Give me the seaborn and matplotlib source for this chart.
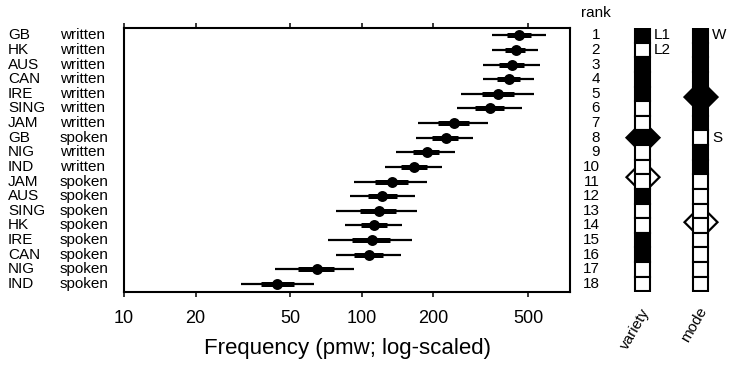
import numpy as np
import pandas as pd
import seaborn as sns
import matplotlib.pyplot as plt
from matplotlib.patches import Rectangle, Polygon
from matplotlib.ticker import NullLocator

# data (pmw), ordered by rank
variety = ['GB', 'HK', 'AUS', 'CAN', 'IRE', 'SING', 'JAM', 'GB', 'NIG',
           'IND', 'JAM', 'AUS', 'SING', 'HK', 'IRE', 'CAN', 'NIG', 'IND']
mode = ['written'] * 7 + ['spoken'] + ['written'] * 2 + ['spoken'] * 8
freq = [457, 444, 426, 414, 373, 345, 244, 226, 187, 165,
        134, 122, 118, 113, 110, 107, 65, 44]
lo95 = [353, 353, 324, 322, 262, 250, 173, 169, 139, 125,
        93, 89, 78, 85, 72, 78, 43, 31]
hi95 = [593, 549, 560, 528, 528, 470, 338, 294, 247, 217,
        188, 168, 170, 147, 162, 146, 93, 63]
lo50 = [407, 400, 377, 370, 320, 299, 209, 198, 164, 146,
        114, 106, 98, 99, 91, 93, 54, 37.5]
hi50 = [513, 487, 482, 461, 435, 395, 282, 254, 212, 187,
        156, 141, 139, 127, 131, 123, 76, 52]
l1_varieties = ['GB', 'AUS', 'CAN', 'IRE']
xticks = [10, 20, 50, 100, 200, 500]

df = pd.DataFrame({'variety': variety, 'mode': mode, 'freq': freq,
                   'lo95': lo95, 'hi95': hi95, 'lo50': lo50, 'hi50': hi50})
df['rank'] = np.arange(1, len(df) + 1)
df['L1'] = df['variety'].isin(l1_varieties)
df['W'] = df['mode'] == 'written'

sns.set_style('white')
plt.rcParams['font.family'] = ['Liberation Sans', 'DejaVu Sans']
plt.rcParams['text.color'] = 'black'
plt.rcParams['axes.labelcolor'] = 'black'
plt.rcParams['xtick.color'] = 'black'
plt.rcParams['xtick.labelcolor'] = 'black'

fig = plt.figure(figsize=(7.29, 3.67), dpi=100)
ylim = (18.55, 0.5)

# main dot plot
ax = fig.add_axes([124 / 729, 75 / 367, 446 / 729, 264 / 367])
ax.hlines(df['rank'], df['lo95'], df['hi95'], color='black', lw=1.6, zorder=2)
ax.hlines(df['rank'], df['lo50'], df['hi50'], color='black', lw=3.6, zorder=2)
sns.scatterplot(data=df, x='freq', y='rank', color='black', s=62,
                linewidth=0, ax=ax, zorder=3, legend=False)
ax.set_xscale('log')
ax.set_xlim(10, 750)
ax.set_ylim(*ylim)
ax.set_xticks(xticks)
ax.set_xticklabels([str(t) for t in xticks])
ax.xaxis.set_minor_locator(NullLocator())
ax.set_yticks([])
ax.tick_params(axis='x', which='major', top=True, bottom=True, direction='out',
               length=3.8, width=1.1, labelsize=13, pad=9, color='black',
               labelcolor='black')
ax.set_xlabel('Frequency (pmw; log-scaled)', fontsize=16, labelpad=8,
              color='black')
ax.set_ylabel('')
for s in ax.spines.values():
    s.set_linewidth(1.5)
    s.set_color('black')

# overlay in pixel-x / rank-y units for labels and rank columns
ov = fig.add_axes([0, 75 / 367, 1, 264 / 367])
ov.set_xlim(0, 729)
ov.set_ylim(*ylim)
ov.axis('off')
ov.patch.set_alpha(0)

fs = 11
for r, v, m in zip(df['rank'], df['variety'], df['mode']):
    ov.text(8, r, v, ha='left', va='center', fontsize=fs)
    ov.text(60, r, m, ha='left', va='center', fontsize=fs)
    ov.text(600, r, str(r), ha='right', va='center', fontsize=fs)
ov.text(596, -0.55, 'rank', ha='center', va='center', fontsize=fs)

px_per_rank = 264 / (ylim[0] - ylim[1])
half = 16.5


def column(cx, flags, groups):
    for filled, mean_rank in groups:
        dy = half / px_per_rank
        pts = [(cx - half, mean_rank), (cx, mean_rank - dy),
               (cx + half, mean_rank), (cx, mean_rank + dy)]
        ov.add_patch(Polygon(pts, closed=True,
                             facecolor='black' if filled else 'white',
                             edgecolor='black', lw=1.6, zorder=2))
    for r, f in zip(df['rank'], flags):
        ov.add_patch(Rectangle((cx - 7.5, r - 0.5), 15, 1,
                               facecolor='black' if f else 'white',
                               edgecolor='black', lw=1.5, zorder=3))


column(643, df['L1'], [(True, df.loc[df['L1'], 'rank'].mean()),
                       (False, df.loc[~df['L1'], 'rank'].mean())])
column(701, df['W'], [(True, df.loc[df['W'], 'rank'].mean()),
                      (False, df.loc[~df['W'], 'rank'].mean())])

ov.text(654, 1, 'L1', ha='left', va='center', fontsize=fs)
ov.text(654, 2, 'L2', ha='left', va='center', fontsize=fs)
ov.text(712, 1, 'W', ha='left', va='center', fontsize=fs)
ov.text(712, 8, 'S', ha='left', va='center', fontsize=fs)
ov.text(652, 19.5, 'variety', rotation=60, ha='right', va='top', fontsize=fs)
ov.text(710, 19.4, 'mode', rotation=60, ha='right', va='top', fontsize=fs)

fig.savefig('out.png', dpi=100)
